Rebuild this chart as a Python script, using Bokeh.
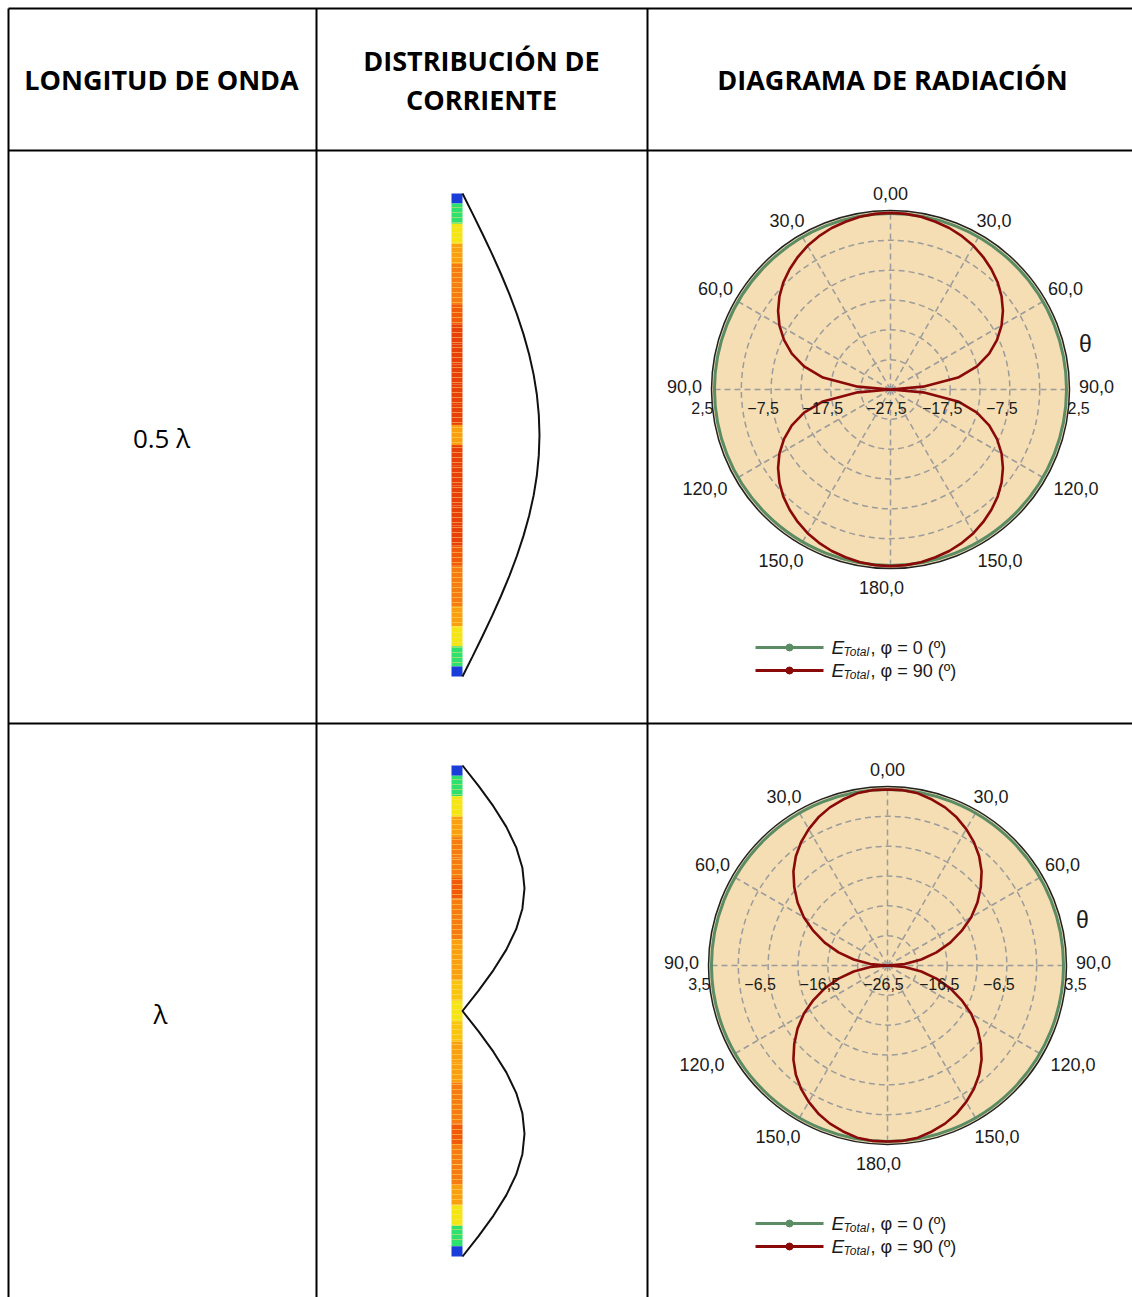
import numpy as np
from bokeh.plotting import figure
from bokeh.models import Range1d, ColumnDataSource
from bokeh.core.properties import value
from bokeh.transform import linear_cmap
from bokeh.embed import file_html
from bokeh.resources import INLINE

# ---------------- table content ----------------
HEADERS = ["LONGITUD DE ONDA", "DISTRIBUCIÓN DE", "CORRIENTE", "DIAGRAMA DE RADIACIÓN"]
WAVELENGTHS = ["0.5 λ", "λ"]

# ---------------- current distribution (|I| along the dipole, top to bottom) ----------------
CURRENT_HALF = [0.0, 0.131, 0.259, 0.383, 0.500, 0.609, 0.707, 0.793, 0.866, 0.924, 0.966, 0.991, 1.0,
                0.991, 0.966, 0.924, 0.866, 0.793, 0.707, 0.609, 0.500, 0.383, 0.259, 0.131, 0.0]
CURRENT_FULL = [0.0, 0.259, 0.500, 0.707, 0.866, 0.966, 1.0, 0.966, 0.866, 0.707, 0.500, 0.259, 0.0,
                0.259, 0.500, 0.707, 0.866, 0.966, 1.0, 0.966, 0.866, 0.707, 0.500, 0.259, 0.0]
# colour level of each segment of the simulated wire
LEVEL_HALF = [0.0, 0.22, 0.42, 0.55, 0.65, 0.72, 0.78, 0.82, 0.85, 0.88, 0.88, 0.85, 0.62,
              0.85, 0.88, 0.88, 0.85, 0.82, 0.78, 0.72, 0.65, 0.55, 0.42, 0.22, 0.0]
LEVEL_FULL = [0.0, 0.22, 0.42, 0.55, 0.65, 0.72, 0.75, 0.72, 0.68, 0.62, 0.55, 0.48, 0.42,
              0.48, 0.55, 0.62, 0.68, 0.72, 0.75, 0.72, 0.65, 0.55, 0.42, 0.22, 0.0]

# ---------------- radiation patterns (dB vs theta, one quadrant) ----------------
THETA_DEG = [0, 5, 10, 15, 20, 25, 30, 35, 40, 45, 50, 55, 60, 65, 70, 75, 80, 85, 90]
RED_DB_HALF = [2.1, 2.05, 1.9, 1.6, 1.3, 0.85, 0.3, -0.4, -1.2, -2.1, -3.2, -4.5, -6.0, -7.8,
               -9.9, -12.5, -16.0, -22.0, -27.5]
RED_DB_FULL = [3.0, 3.0, 2.8, 2.3, 1.7, 0.9, -0.1, -1.25, -2.6, -4.2, -6.1, -8.1, -10.3, -12.8,
               -15.3, -18.0, -20.75, -23.6, -26.5]
GREEN_DB = [2.0, 3.0]
DB_RANGE = [(-27.5, 2.5), (-26.5, 3.5)]
RING_LABELS = [["2,5", "−7,5", "−17,5", "−27,5"], ["3,5", "−6,5", "−16,5", "−26,5"]]
ANGLE_TICKS = [0, 30, 60, 90, 120, 150, 180]
ANGLE_LABELS = ["0,00", "30,0", "60,0", "90,0", "120,0", "150,0", "180,0"]
LEGEND_LABELS = [", φ = 0 (º)", ", φ = 90 (º)"]

W, H = 1132, 1297
p = figure(width=W, height=H, x_range=Range1d(0, W), y_range=Range1d(H, 0),
           x_axis_type=None, y_axis_type=None, output_backend="svg",
           toolbar_location=None, min_border=0)
p.grid.visible = False
p.outline_line_color = None
p.background_fill_color = "white"
p.border_fill_color = "white"

SANS = value("Liberation Sans")
HEAD = value("Open Sans")

# ---------------- table frame ----------------
COL_X = [8, 316, 647]
ROW_Y = [8, 150, 723]
p.segment(x0=COL_X, x1=COL_X, y0=[8] * 3, y1=[H] * 3, line_color="black", line_width=2)
p.segment(x0=[8] * 3, x1=[W] * 3, y0=ROW_Y, y1=ROW_Y, line_color="black", line_width=2)

p.text(x=[161, 481, 481, 892], y=[79, 60, 99, 79], text=HEADERS, text_font=HEAD,
       text_font_style="bold", text_font_size="27px", text_align="center",
       text_baseline="middle", text_color="black")

row_mid = [437, 1013]
p.text(x=[161, 160], y=row_mid, text=WAVELENGTHS, text_font=HEAD, text_font_size="26px",
       text_align="center", text_baseline="middle", text_color="black")

# ---------------- current distribution columns ----------------
BAR_PALETTE = ["#1a3cd8", "#18b4f0", "#2ee070", "#b4e61e", "#f4e614", "#f8c410",
               "#f8a010", "#f47c10", "#f05a0a", "#e8400a", "#e02808"]


def current_column(y_top, y_bot, amp, current, levels):
    bx0, bx1 = 451, 462
    n = len(current)
    t = np.linspace(0, 1, n)
    span = y_bot - y_top
    half = 0.5 / (n - 1)
    src = ColumnDataSource(dict(
        top=y_top + np.clip(t - half, 0, 1) * span,
        bottom=y_top + np.clip(t + half, 0, 1) * span,
        lvl=levels))
    p.quad(left=bx0, right=bx1, top="top", bottom="bottom", source=src,
           fill_color=linear_cmap("lvl", BAR_PALETTE, 0, 1), line_color=None)
    stripes = np.arange(y_top + 14, y_bot - 12, 5)
    p.segment(x0=bx0, x1=bx1, y0=stripes, y1=stripes, line_color="#ffe070",
              line_alpha=0.5, line_width=1)
    p.line(x=bx1 + amp * np.array(current), y=y_top + t * span, line_color="#111111",
           line_width=2)


current_column(193, 676, 77, CURRENT_HALF, LEVEL_HALF)
current_column(765, 1256, 62, CURRENT_FULL, LEVEL_FULL)

# ---------------- polar radiation diagrams ----------------
R = 179
GRID = "#9c9c9c"
GREEN = "#5b8c64"
RED = "#8a0a0a"
# label distance beyond the rim and extra sideways push, per angle tick
TICK_OFFSET = [17, 16, 23, 27, 19, 18, 19]
TICK_PUSH = [0, 6, 0, 0, 14, 11, 0]


def polar(cx, cy, idx, red_db):
    rmin, rmax = DB_RANGE[idx]
    k = R / (rmax - rmin)

    def rad(db):
        return np.clip((np.asarray(db, dtype=float) - rmin) * k, 0, None)

    p.circle(x=[cx], y=[cy], radius=R, fill_color="#F5DEB3", line_color=None)
    rings = np.arange(rmin + 5, rmax - 1e-6, 5)
    p.circle(x=[cx] * len(rings), y=[cy] * len(rings), radius=rad(rings), fill_color=None,
             line_color=GRID, line_dash="6 4", line_width=1.5)
    spokes = np.radians(np.arange(0, 360, 30))
    p.segment(x0=cx, y0=cy, x1=cx + R * np.sin(spokes), y1=cy - R * np.cos(spokes),
              line_color=GRID, line_dash="6 4", line_width=1.5)
    p.circle(x=[cx], y=[cy], radius=rad(GREEN_DB[idx]), fill_color=None,
             line_color=GREEN, line_width=3)
    p.circle(x=[cx], y=[cy], radius=R, fill_color=None, line_color="#222222", line_width=1.5)

    # theta 0..90 given; pattern is symmetric about the horizontal and vertical axes
    th = list(THETA_DEG) + [180 - t for t in THETA_DEG[-2::-1]]
    vv = list(red_db) + list(red_db[-2::-1])
    th = th + [360 - t for t in th[-2::-1]]
    vv = vv + vv[-2::-1]
    a = np.radians(th)
    r = rad(vv)
    p.line(x=cx + r * np.sin(a), y=cy - r * np.cos(a), line_color=RED, line_width=2.6)

    # angle labels on both sides
    lx, ly, lt = [], [], []
    for ang, lab, off, push in zip(ANGLE_TICKS, ANGLE_LABELS, TICK_OFFSET, TICK_PUSH):
        sides = [1] if ang in (0, 180) else [1, -1]
        for s in sides:
            aa = np.radians(ang)
            lx.append(cx + s * ((R + off) * np.sin(aa) + push) - (9 if ang == 180 else 0))
            ly.append(cy - (R + off) * np.cos(aa) - (3 if ang == 90 else 0))
            lt.append(lab)
    p.text(x=lx, y=ly, text=lt, text_font=SANS, text_font_size="18px", text_align="center",
           text_baseline="middle", text_color="#1a1a1a")

    # radial labels along the horizontal axis
    labs = RING_LABELS[idx]
    vals = [rmax, rmax - 10, rmax - 20, rmax - 30]
    yl = cy + 18
    p.text(x=[cx - R + 2], y=[yl], text=[labs[0]], text_font=SANS, text_font_size="16px",
           text_align="right", text_baseline="middle", text_color="#1a1a1a")
    p.text(x=[cx + R - 2], y=[yl], text=[labs[0]], text_font=SANS, text_font_size="16px",
           text_align="left", text_baseline="middle", text_color="#1a1a1a")
    ix, it = [], []
    for lab, v in zip(labs[1:3], vals[1:3]):
        rr = float(rad(v))
        ix += [cx - rr - 8, cx + rr - 8]
        it += [lab, lab]
    ix.append(cx - 4)
    it.append(labs[3])
    p.text(x=ix, y=[yl] * len(ix), text=it, text_font=SANS, text_font_size="16px",
           text_align="center", text_baseline="middle", text_color="#1a1a1a")

    p.text(x=[cx + 195], y=[cy - 46], text=["θ"], text_font=SANS, text_font_size="23px",
           text_align="center", text_baseline="middle", text_color="#1a1a1a")

    # legend
    ys = [cy + 258, cy + 281]
    for yy, col, lab in zip(ys, [GREEN, RED], LEGEND_LABELS):
        p.segment(x0=[755], x1=[823], y0=[yy], y1=[yy], line_color=col, line_width=3)
        p.scatter(x=[789], y=[yy], marker="circle", size=7, fill_color=col, line_color=col)
        p.text(x=[831], y=[yy], text=["E"], text_font=SANS, text_font_style="italic",
               text_font_size="19px", text_baseline="middle", text_color="#1a1a1a")
        p.text(x=[843], y=[yy + 4], text=["Total"], text_font=SANS, text_font_style="italic",
               text_font_size="12px", text_baseline="middle", text_color="#1a1a1a")
        p.text(x=[870], y=[yy], text=[lab], text_font=SANS, text_font_size="18px",
               text_baseline="middle", text_color="#1a1a1a")


polar(890, 389, 0, RED_DB_HALF)
polar(887, 965, 1, RED_DB_FULL)

open("out.html", "w").write(file_html(p, INLINE))
